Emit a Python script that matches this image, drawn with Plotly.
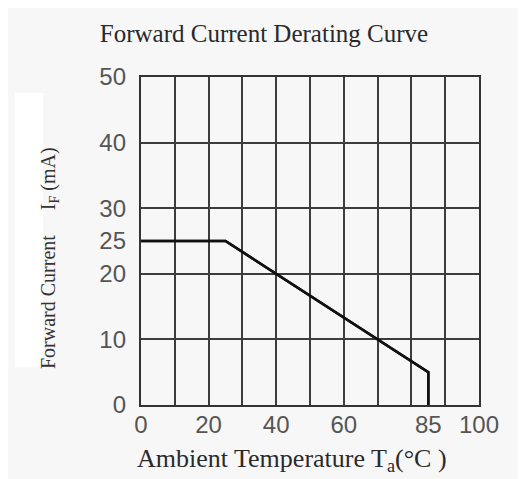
import plotly.graph_objects as go

# Data
temperature_c = [0, 25, 85, 85]
forward_current_ma = [25, 25, 5, 0]

x_tick_vals = [0, 20, 40, 60, 85, 100]
x_tick_text = ["0", "20", "40", "60", "85", "100"]
y_tick_vals = [0, 10, 20, 25, 30, 40, 50]
y_tick_text = ["0", "10", "20", "25", "30", "40", "50"]

title_text = "Forward Current Derating Curve"
x_title = "Ambient Temperature T<sub>a</sub>(°C )"
y_title = "Forward Current\u00a0\u00a0\u00a0\u00a0\u00a0I<sub>F</sub> (mA)"

BG = "#f7f7f7"
GRID = "#3c3c3c"
TICKFONT = dict(family="Liberation Sans", size=24, color="#555555")
SERIF = "Liberation Serif"

# page body has an 8px margin; figure sized to fill the rest of the window
W, H = 518, 471
L, R, T, B = 133, 47, 69, 74
PW, PH = W - L - R, H - T - B

fig = go.Figure()
# same curve on the grid axes and on the labelled overlay axes (they match exactly)
for xa, ya in (("x", "y"), ("x2", "y2")):
    fig.add_trace(go.Scatter(
        x=temperature_c, y=forward_current_ma, mode="lines",
        line=dict(color="#111111", width=2.6),
        xaxis=xa, yaxis=ya, showlegend=False, hoverinfo="skip",
    ))

fig.update_layout(
    width=W, height=H,
    margin=dict(l=L, r=R, t=T, b=B),
    paper_bgcolor=BG,
    plot_bgcolor=BG,
    showlegend=False,
    title=dict(text=title_text, x=256 / W, xref="container", xanchor="center",
               y=1 - 25 / H, yref="container", yanchor="middle",
               font=dict(family=SERIF, size=25, color="#2a2a2a")),
    xaxis=dict(range=[0, 100], anchor="y", tickmode="linear", tick0=0, dtick=10,
               showticklabels=False, showgrid=True, gridcolor=GRID, gridwidth=1.6,
               zeroline=False, showline=True, mirror=True, linecolor="#333333",
               linewidth=2, ticks=""),
    yaxis=dict(range=[0, 50], anchor="x", tickmode="linear", tick0=0, dtick=10,
               showticklabels=False, showgrid=True, gridcolor=GRID, gridwidth=1.6,
               zeroline=False, showline=True, mirror=True, linecolor="#333333",
               linewidth=2, ticks=""),
    xaxis2=dict(overlaying="x", matches="x", side="bottom", anchor="y2",
                tickmode="array", tickvals=x_tick_vals, ticktext=x_tick_text,
                showgrid=False, zeroline=False, showline=False, ticks="",
                tickfont=TICKFONT, ticklabelstandoff=3),
    yaxis2=dict(overlaying="y", matches="y", side="left", anchor="x2",
                tickmode="array", tickvals=y_tick_vals, ticktext=y_tick_text,
                showgrid=False, zeroline=False, showline=False, ticks="",
                tickfont=TICKFONT, ticklabelstandoff=14),
    shapes=[
        dict(type="rect", xref="paper", yref="paper", layer="below",
             x0=(7 - L) / PW, x1=(35 - L) / PW,
             y0=(H - B - 359) / PH, y1=(H - B - 85) / PH,
             fillcolor="white", line=dict(width=0)),
    ],
    annotations=[
        dict(text=x_title, xref="paper", yref="paper",
             x=151 / PW, y=-55 / PH,
             xanchor="center", yanchor="middle", showarrow=False,
             font=dict(family=SERIF, size=26, color="#2a2a2a")),
        dict(text=y_title, xref="paper", yref="paper",
             x=-91 / PW, y=147 / PH, textangle=-90,
             xanchor="center", yanchor="middle", showarrow=False,
             font=dict(family=SERIF, size=20, color="#333333")),
    ],
)

fig.write_html("out.html")
